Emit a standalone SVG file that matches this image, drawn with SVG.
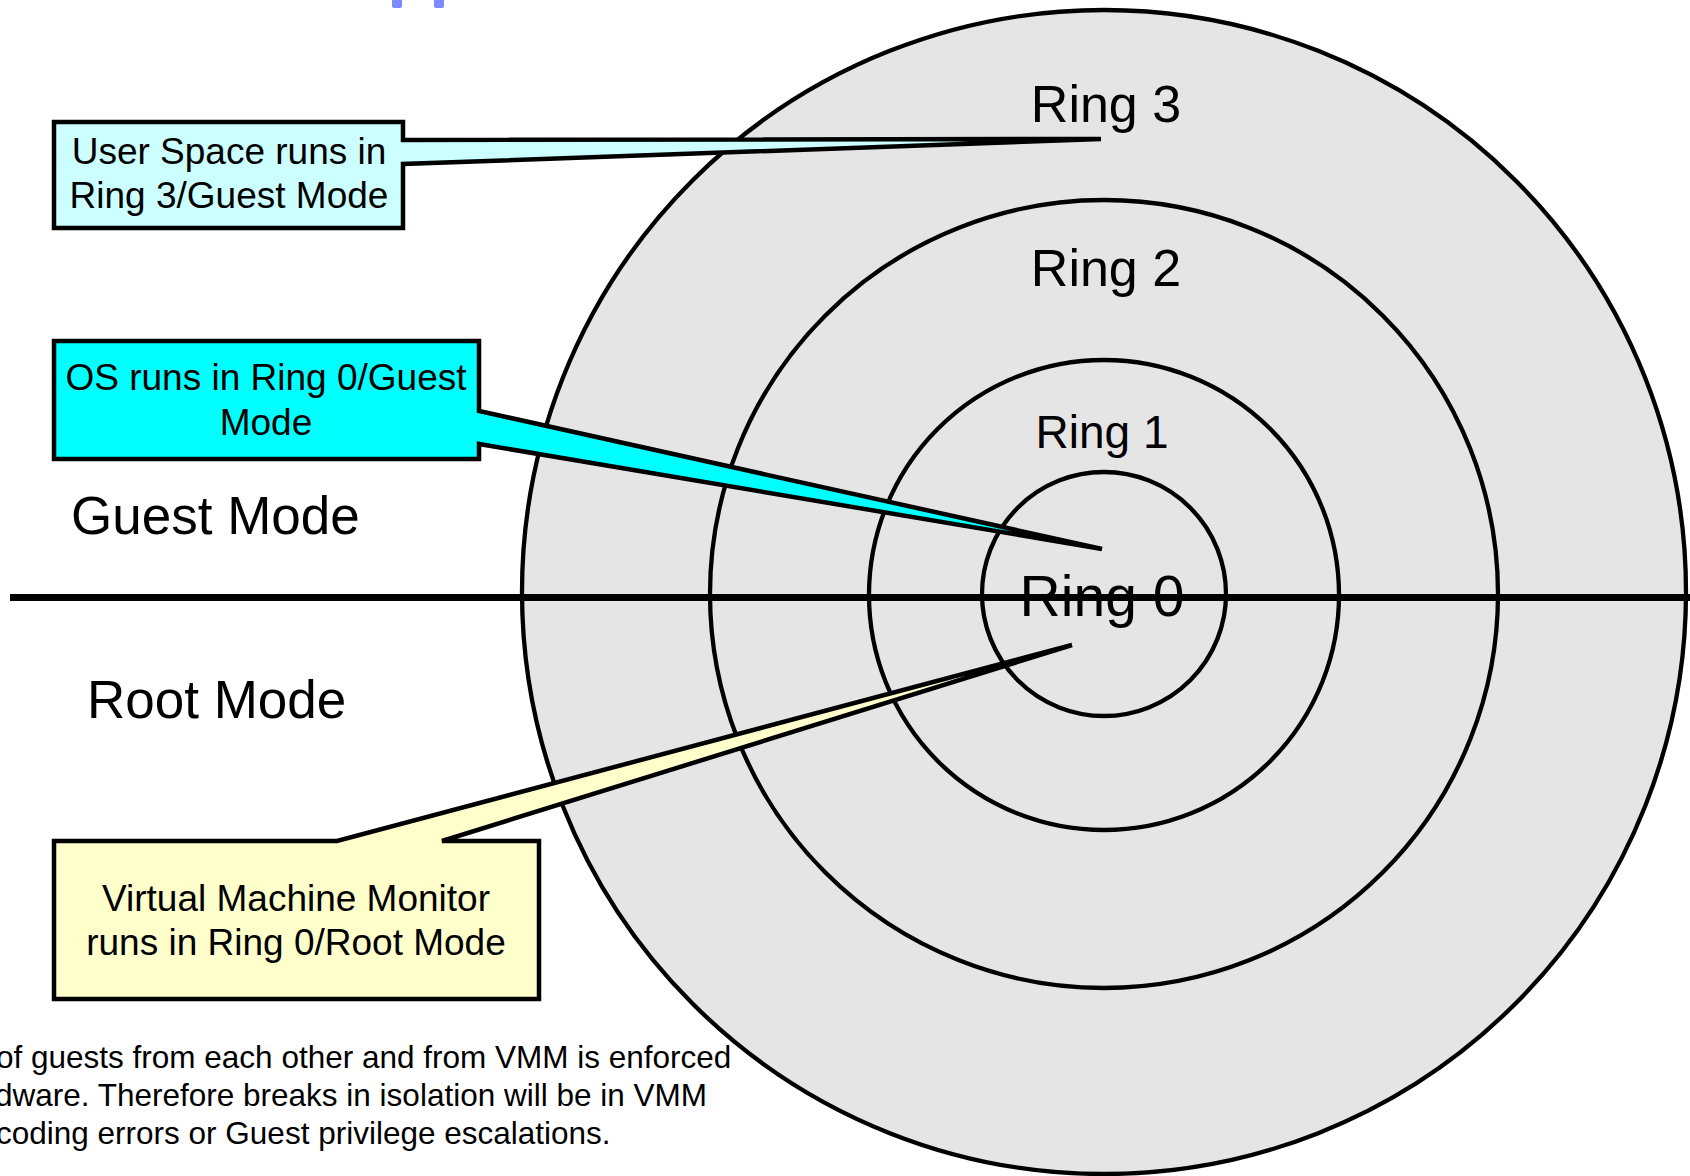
<svg xmlns="http://www.w3.org/2000/svg" width="1690" height="1176" viewBox="0 0 1690 1176">
  <style>
    .ring { fill: #e5e5e5; stroke: #000; stroke-width: 4.3; }
    .lbl { font-family: "Liberation Sans", Arial, sans-serif; fill: #000; }
    .ringlbl { text-anchor: middle; }
    .callout { stroke: #000; stroke-width: 4.5; stroke-linejoin: miter; stroke-miterlimit: 4; }
    .ctext { font-family: "Liberation Sans", Arial, sans-serif; font-size: 37px; fill: #000; text-anchor: middle; }
    .note { font-family: "Liberation Sans", Arial, sans-serif; font-size: 31.5px; fill: #000; }
  </style>

  <rect width="1690" height="1176" fill="#fff"/>

  <!-- bits of the page title cut off at the top edge -->
  <g id="title-fragment" fill="#7b8bff">
    <rect x="392" y="-6" width="10" height="14" rx="2"/>
    <rect x="434" y="-6" width="10" height="14" rx="2"/>
  </g>

  <!-- concentric protection rings -->
  <g id="ring3"><circle class="ring" cx="1104" cy="592" r="582"/></g>
  <g id="ring2"><circle class="ring" cx="1104" cy="594" r="394"/></g>
  <g id="ring1"><circle class="ring" cx="1104" cy="595" r="235"/></g>
  <g id="ring0"><circle class="ring" cx="1104" cy="594" r="122"/></g>

  <!-- guest / root mode divider -->
  <g id="divider">
    <line x1="10" y1="597.5" x2="1690" y2="597.5" stroke="#000" stroke-width="7"/>
  </g>

  <g id="ring-labels" class="lbl ringlbl">
    <text x="1106" y="122" font-size="52">Ring 3</text>
    <text x="1106" y="286" font-size="52">Ring 2</text>
    <text x="1102" y="448" font-size="46">Ring 1</text>
    <text x="1102" y="616" font-size="57">Ring 0</text>
  </g>

  <g id="mode-labels" class="lbl" font-size="53">
    <text x="71" y="534">Guest Mode</text>
    <text x="87" y="718">Root Mode</text>
  </g>

  <!-- callouts: box and pointer drawn as one outline -->
  <g id="user-space">
    <path class="callout" fill="#ccffff" d="M54,122 H403 V140 L1101,139 L403,164 V228 H54 Z"/>
    <text class="ctext" x="229" y="164">User Space runs in</text>
    <text class="ctext" x="229" y="208">Ring 3/Guest Mode</text>
  </g>

  <g id="guest-os">
    <path class="callout" fill="#00ffff" d="M54,341 H479 V411 L1102,549 L479,444 V459 H54 Z"/>
    <text class="ctext" x="266" y="390">OS runs in Ring 0/Guest</text>
    <text class="ctext" x="266" y="435">Mode</text>
  </g>

  <g id="vmm">
    <path class="callout" fill="#ffffcc" d="M54,841 H337 L1072,645 L442,841 H539 V999 H54 Z"/>
    <text class="ctext" x="296" y="911">Virtual Machine Monitor</text>
    <text class="ctext" x="296" y="955">runs in Ring 0/Root Mode</text>
  </g>

  <g id="isolation-note" class="note">
    <text x="-4" y="1068">of guests from each other and from VMM is enforced</text>
    <text x="-5" y="1106">dware. Therefore breaks in isolation will be in VMM</text>
    <text x="-4" y="1144">coding errors or Guest privilege escalations.</text>
  </g>
</svg>
